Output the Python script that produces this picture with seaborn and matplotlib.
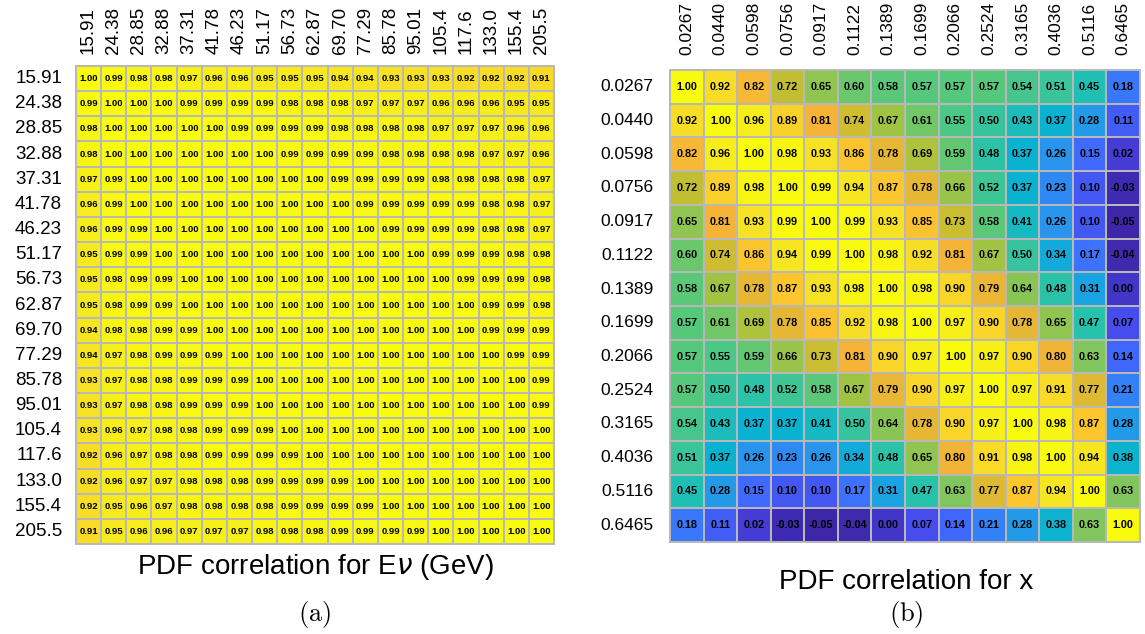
import numpy as np
import pandas as pd
import seaborn as sns
import matplotlib
matplotlib.use("Agg")
import matplotlib.pyplot as plt
from matplotlib.colors import LinearSegmentedColormap

# ---------------- data ----------------
enu_labels = ["15.91", "24.38", "28.85", "32.88", "37.31", "41.78", "46.23", "51.17",
              "56.73", "62.87", "69.70", "77.29", "85.78", "95.01", "105.4", "117.6",
              "133.0", "155.4", "205.5"]

# upper triangle of the E_nu correlation matrix (row i holds columns i..18)
enu_upper = [
    [1.00, 0.99, 0.98, 0.98, 0.97, 0.96, 0.96, 0.95, 0.95, 0.95, 0.94, 0.94, 0.93, 0.93, 0.93, 0.92, 0.92, 0.92, 0.91],
    [1.00, 1.00, 1.00, 0.99, 0.99, 0.99, 0.99, 0.98, 0.98, 0.98, 0.97, 0.97, 0.97, 0.96, 0.96, 0.96, 0.95, 0.95],
    [1.00, 1.00, 1.00, 1.00, 0.99, 0.99, 0.99, 0.99, 0.98, 0.98, 0.98, 0.98, 0.97, 0.97, 0.97, 0.96, 0.96],
    [1.00, 1.00, 1.00, 1.00, 1.00, 0.99, 0.99, 0.99, 0.99, 0.98, 0.98, 0.98, 0.98, 0.97, 0.97, 0.96],
    [1.00, 1.00, 1.00, 1.00, 1.00, 1.00, 0.99, 0.99, 0.99, 0.99, 0.98, 0.98, 0.98, 0.98, 0.97],
    [1.00, 1.00, 1.00, 1.00, 1.00, 1.00, 0.99, 0.99, 0.99, 0.99, 0.99, 0.98, 0.98, 0.97],
    [1.00, 1.00, 1.00, 1.00, 1.00, 1.00, 0.99, 0.99, 0.99, 0.99, 0.98, 0.98, 0.97],
    [1.00, 1.00, 1.00, 1.00, 1.00, 1.00, 1.00, 0.99, 0.99, 0.99, 0.98, 0.98],
    [1.00, 1.00, 1.00, 1.00, 1.00, 1.00, 1.00, 0.99, 0.99, 0.99, 0.98],
    [1.00, 1.00, 1.00, 1.00, 1.00, 1.00, 1.00, 0.99, 0.99, 0.98],
    [1.00, 1.00, 1.00, 1.00, 1.00, 1.00, 0.99, 0.99, 0.99],
    [1.00, 1.00, 1.00, 1.00, 1.00, 1.00, 0.99, 0.99],
    [1.00, 1.00, 1.00, 1.00, 1.00, 1.00, 0.99],
    [1.00, 1.00, 1.00, 1.00, 1.00, 0.99],
    [1.00, 1.00, 1.00, 1.00, 1.00],
    [1.00, 1.00, 1.00, 1.00],
    [1.00, 1.00, 1.00],
    [1.00, 1.00],
    [1.00],
]

x_labels = ["0.0267", "0.0440", "0.0598", "0.0756", "0.0917", "0.1122", "0.1389",
            "0.1699", "0.2066", "0.2524", "0.3165", "0.4036", "0.5116", "0.6465"]

x_corr = [
    [1.00, 0.92, 0.82, 0.72, 0.65, 0.60, 0.58, 0.57, 0.57, 0.57, 0.54, 0.51, 0.45, 0.18],
    [0.92, 1.00, 0.96, 0.89, 0.81, 0.74, 0.67, 0.61, 0.55, 0.50, 0.43, 0.37, 0.28, 0.11],
    [0.82, 0.96, 1.00, 0.98, 0.93, 0.86, 0.78, 0.69, 0.59, 0.48, 0.37, 0.26, 0.15, 0.02],
    [0.72, 0.89, 0.98, 1.00, 0.99, 0.94, 0.87, 0.78, 0.66, 0.52, 0.37, 0.23, 0.10, -0.03],
    [0.65, 0.81, 0.93, 0.99, 1.00, 0.99, 0.93, 0.85, 0.73, 0.58, 0.41, 0.26, 0.10, -0.05],
    [0.60, 0.74, 0.86, 0.94, 0.99, 1.00, 0.98, 0.92, 0.81, 0.67, 0.50, 0.34, 0.17, -0.04],
    [0.58, 0.67, 0.78, 0.87, 0.93, 0.98, 1.00, 0.98, 0.90, 0.79, 0.64, 0.48, 0.31, 0.00],
    [0.57, 0.61, 0.69, 0.78, 0.85, 0.92, 0.98, 1.00, 0.97, 0.90, 0.78, 0.65, 0.47, 0.07],
    [0.57, 0.55, 0.59, 0.66, 0.73, 0.81, 0.90, 0.97, 1.00, 0.97, 0.90, 0.80, 0.63, 0.14],
    [0.57, 0.50, 0.48, 0.52, 0.58, 0.67, 0.79, 0.90, 0.97, 1.00, 0.97, 0.91, 0.77, 0.21],
    [0.54, 0.43, 0.37, 0.37, 0.41, 0.50, 0.64, 0.78, 0.90, 0.97, 1.00, 0.98, 0.87, 0.28],
    [0.51, 0.37, 0.26, 0.23, 0.26, 0.34, 0.48, 0.65, 0.80, 0.91, 0.98, 1.00, 0.94, 0.38],
    [0.45, 0.28, 0.15, 0.10, 0.10, 0.17, 0.31, 0.47, 0.63, 0.77, 0.87, 0.94, 1.00, 0.63],
    [0.18, 0.11, 0.02, -0.03, -0.05, -0.04, 0.00, 0.07, 0.14, 0.21, 0.28, 0.38, 0.63, 1.00],
]

# ---------------- build frames ----------------
n = len(enu_labels)
enu_mat = np.zeros((n, n))
for i, row in enumerate(enu_upper):
    enu_mat[i, i:] = row
    enu_mat[i:, i] = row
enu_df = pd.DataFrame(enu_mat, index=enu_labels, columns=enu_labels)
x_df = pd.DataFrame(np.array(x_corr), index=x_labels, columns=x_labels)

# parula-like palette
stops = [
    (0.00, (62, 38, 168)),
    (0.10, (71, 71, 235)),
    (0.20, (62, 111, 255)),
    (0.30, (39, 150, 235)),
    (0.40, (10, 178, 210)),
    (0.50, (40, 195, 170)),
    (0.60, (90, 200, 120)),
    (0.70, (170, 195, 60)),
    (0.75, (205, 188, 48)),
    (0.82, (245, 180, 55)),
    (0.88, (252, 200, 45)),
    (0.94, (245, 228, 35)),
    (1.00, (249, 251, 14)),
]
cmap = LinearSegmentedColormap.from_list(
    "parula_like", [(p, tuple(c / 255 for c in rgb)) for p, rgb in stops])

plt.rcParams['font.family'] = ['Liberation Sans', 'DejaVu Sans']

W, H = 1145, 634
fig = plt.figure(figsize=(W / 100, H / 100), dpi=100)
axL = fig.add_axes([76 / W, 1 - 544 / H, 478 / W, 478 / H])
axR = fig.add_axes([670 / W, 1 - 542 / H, 470 / W, 472 / H])

grid_col = '#b8b8b8'
for ax, df, afs, lfs, pad in [(axL, enu_df, 6.8, 13.5, 10), (axR, x_df, 7.8, 12.5, 12)]:
    sns.heatmap(df, ax=ax, cmap=cmap, vmin=-0.05, vmax=1.0, cbar=False,
                annot=True, fmt=".2f",
                annot_kws={'color': 'black', 'fontsize': afs, 'fontweight': 'bold'},
                linewidths=1.4, linecolor=grid_col)
    ax.xaxis.tick_top()
    ax.set_xticklabels(df.columns, rotation=90, fontsize=lfs)
    ax.set_yticklabels(df.index, rotation=0, fontsize=lfs)
    ax.tick_params(axis='y', length=0, pad=pad)
    ax.tick_params(axis='x', length=0, pad=pad - 1)
    ax.set_xlabel('')
    ax.set_ylabel('')
    for s in ax.spines.values():
        s.set_visible(True)
        s.set_color(grid_col)
        s.set_linewidth(1.4)

fig.text(315 / W, 1 - 567 / H, r'PDF correlation for E$\nu$ (GeV)',
         ha='center', va='center', fontsize=20, math_fontfamily='dejavusans')
fig.text(906 / W, 1 - 582 / H, 'PDF correlation for x',
         ha='center', va='center', fontsize=20)
fig.text(315 / W, 1 - 615 / H, r'$\mathrm{(a)}$', ha='center', va='center',
         fontsize=19, math_fontfamily='cm')
fig.text(906 / W, 1 - 615 / H, r'$\mathrm{(b)}$', ha='center', va='center',
         fontsize=19, math_fontfamily='cm')

fig.savefig('out.png', dpi=100)
